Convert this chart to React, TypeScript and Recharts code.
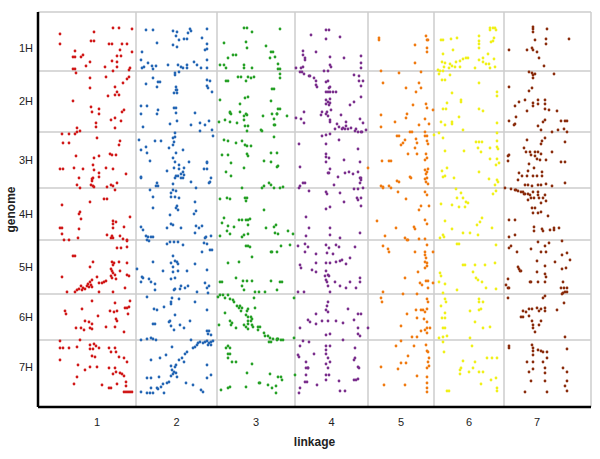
import React from 'react';
import { ScatterChart, Scatter, XAxis, YAxis, ReferenceLine, Label } from 'recharts';

type Pt = [number, number];

// linkage groups along x (cumulative cM), genome chromosomes along y (cumulative position)
const GROUP_LABELS = ['1', '2', '3', '4', '5', '6', '7'];
const GROUP_BREAKS = [0, 78, 159, 237, 310, 376, 446, 512];
const CHROM_LABELS = ['1H', '2H', '3H', '4H', '5H', '6H', '7H'];
const CHROM_BREAKS = [0, 46, 107, 163, 215, 269, 315, 369];
const GROUP_COLORS = ['#d01818', '#2466b4', '#25a025', '#7a2e8c', '#f07a10', '#f0f018', '#8a2c0c'];

const LG1: Pt[] = [
  [55,3],[61,3],[74,4],[36,7],[2,9],[33,16],[36,16],[2,19],[51,19],[54,19],[64,19],[69,19],[62,25],[74,27],[17,26],[25,30],[23,32],[15,32],[17,32],[59,31],[63,31],[54,36],[32,37],[59,37],[28,41],[47,42],[59,42],[72,43],[71,45],[15,44],[17,44],[18,48],[55,46],
  [32,53],[48,52],[71,52],[69,54],[65,58],[57,62],[32,63],[59,67],[50,71],[57,70],[61,70],[15,76],[33,82],[41,84],[34,87],[41,89],[66,85],[64,87],[53,95],[57,93],[63,96],[38,98],[38,102],[57,103],[19,103],[22,106],[19,107],[4,109],[11,109],[17,109],
  [39,113],[62,116],[61,120],[5,118],[11,118],[18,131],[36,133],[41,131],[52,129],[54,130],[58,130],[35,140],[2,144],[5,144],[16,143],[25,144],[36,145],[41,148],[48,143],[55,144],[68,149],[35,153],[34,154],[41,152],[34,156],[21,153],[19,160],[22,163],[33,160],[35,161],[36,162],[49,162],[55,161],[59,158],[57,165],[53,160],
  [32,177],[46,174],[49,174],[4,180],[22,187],[21,189],[23,194],[72,192],[55,196],[55,199],[58,197],[66,202],[2,203],[4,203],[21,204],[4,209],[55,203],[49,210],[54,211],[62,211],[55,213],[65,214],[69,215],[69,216],[6,215],[11,215],[20,213],[53,213],
  [59,223],[63,223],[69,222],[15,231],[17,231],[69,238],[54,237],[56,238],[61,237],[35,237],[32,242],[55,240],[53,244],[54,246],[55,248],[62,246],[57,250],[53,251],[69,250],[71,251],[4,252],[39,252],[34,255],[32,257],[46,257],[48,256],[44,258],[41,258],[54,253],[58,254],[30,259],[33,260],[31,262],[29,261],[34,262],[25,263],[23,261],[27,264],[21,264],[19,265],[17,267],[9,267],[24,265],[41,267],[55,267],[67,263],
  [34,276],[57,278],[72,276],[71,282],[67,283],[69,283],[24,284],[7,286],[8,289],[52,286],[56,287],[59,286],[40,291],[70,289],[58,294],[59,296],[27,296],[31,297],[34,299],[32,303],[34,304],[18,303],[23,303],[26,305],[48,302],[57,302],[66,307],
  [2,316],[22,315],[2,323],[5,323],[11,323],[19,322],[32,320],[36,319],[38,321],[41,323],[32,324],[35,324],[51,323],[57,323],[58,327],[53,327],[34,331],[37,332],[61,332],[66,333],[69,337],[2,335],[20,340],[27,345],[32,342],[39,342],[51,343],[57,343],[58,347],[55,349],[62,348],[64,349],[66,351],[19,352],[68,357],[16,359],[44,360],[59,359],[68,361],[51,363],[53,363],[66,367],[68,367],[70,367],[72,367],[74,367],
];

const LG2: Pt[] = [
  [88,5],[95,5],[115,6],[119,7],[132,4],[133,6],[130,8],[149,4],[99,18],[118,11],[121,15],[126,14],[129,14],[115,20],[119,22],[144,13],[149,19],[149,24],[147,25],[84,27],[83,35],[90,38],[94,41],[98,41],[84,43],[86,42],[95,44],[110,40],[120,40],[123,42],[125,43],[129,40],[136,37],[139,40],[143,43],[149,35],[149,43],[129,43],
  [117,48],[117,50],[121,47],[95,53],[100,57],[102,57],[88,59],[99,62],[118,62],[118,65],[119,65],[149,55],[152,56],[149,61],[150,63],[154,67],[116,68],[119,68],[83,81],[89,81],[100,85],[116,83],[118,83],[83,89],[99,89],[118,88],[137,88],[119,96],[112,99],[85,102],[133,100],[142,98],[151,96],[154,105],[142,106],[147,100],
  [117,108],[115,113],[117,112],[155,111],[81,115],[97,116],[103,116],[116,117],[115,120],[111,123],[88,122],[83,125],[89,128],[92,136],[125,125],[118,128],[115,133],[117,137],[131,137],[121,140],[109,146],[116,143],[121,144],[126,143],[125,147],[123,149],[149,137],[149,138],[146,144],[149,144],[118,151],[120,151],[117,153],[123,153],[126,150],[125,153],[83,152],[83,153],[99,158],[98,161],[100,161],[115,159],[133,157],[153,153],[152,157],[151,158],
  [92,165],[115,165],[118,166],[113,168],[117,172],[121,173],[95,172],[113,172],[138,163],[137,177],[119,181],[118,183],[120,185],[95,183],[112,190],[138,186],[136,189],[83,202],[85,205],[88,211],[90,212],[93,212],[95,212],[113,199],[115,200],[109,203],[123,203],[138,201],[141,203],[144,201],[137,208],[148,212],[147,213],[153,211],[89,215],[91,216],
  [109,219],[112,217],[116,217],[120,217],[125,220],[146,218],[149,219],[152,225],[154,225],[144,227],[79,244],[95,237],[115,231],[117,236],[119,237],[113,238],[120,239],[115,242],[105,246],[115,247],[120,246],[129,246],[137,239],[149,245],[84,252],[85,253],[91,254],[93,257],[97,259],[113,254],[117,253],[83,257],[123,261],[130,261],[127,263],[122,264],[117,264],[116,265],[97,265],[139,267],[147,258],[151,261],[149,263],[150,268],
  [89,272],[114,273],[113,277],[121,274],[96,284],[99,285],[106,282],[113,279],[137,277],[149,285],[117,290],[112,296],[111,297],[113,301],[116,305],[122,300],[126,303],[132,296],[95,299],[97,299],[149,306],[151,306],[150,309],[153,310],[83,315],[89,314],[93,313],[95,314],[98,315],
  [133,315],[135,323],[137,322],[139,320],[140,318],[142,317],[145,318],[147,317],[149,316],[151,318],[153,317],[155,316],[153,320],[150,320],[114,322],[129,327],[127,329],[124,333],[121,335],[126,337],[118,340],[113,341],[117,342],[114,345],[116,347],[118,348],[115,349],[113,351],[119,352],[102,333],[108,330],[93,335],[149,340],[153,350],[149,353],[89,353],[93,353],[101,352],[111,357],[109,358],[105,359],[103,362],[99,363],[93,363],[128,358],[135,360],[143,365],[145,367],[83,367],[89,368],[92,368],[95,368],[106,368],[100,364],
];

const LG3: Pt[] = [
  [186,3],[189,3],[194,7],[222,4],[166,18],[188,17],[189,23],[208,21],[213,27],[215,27],[217,32],[212,33],[175,30],[178,30],[170,33],[162,40],[166,40],[168,43],[186,40],[186,43],[194,43],[220,39],[220,44],[222,44],
  [222,49],[222,53],[180,52],[183,52],[190,52],[193,53],[196,52],[188,56],[168,56],[170,56],[214,64],[216,64],[190,72],[187,73],[182,79],[162,75],[213,76],[172,87],[172,88],[173,89],[182,87],[188,89],[189,90],[186,91],[220,84],[222,84],[219,89],[214,89],[219,89],[205,91],[229,91],[161,97],[167,95],[172,97],[179,98],[186,95],[187,101],[190,101],[189,106],[203,105],[204,106],[216,94],[216,100],[217,100],
  [166,115],[170,116],[178,118],[184,116],[216,112],[187,120],[189,121],[193,121],[189,129],[190,131],[164,130],[170,130],[173,138],[206,136],[213,128],[219,128],[213,137],[219,142],[220,141],[186,143],[168,147],[173,151],[211,158],[213,160],[206,161],[216,163],[222,163],[225,162],[184,163],[204,163],
  [162,174],[169,173],[172,174],[187,173],[189,173],[188,176],[206,185],[166,193],[164,198],[170,201],[181,195],[184,195],[188,195],[190,195],[192,194],[176,202],[190,200],[190,209],[186,210],[184,212],[169,206],[172,209],[162,211],[208,203],[216,202],[218,200],[217,208],[220,209],[230,206],[235,209],
  [188,221],[190,221],[192,222],[194,232],[223,221],[232,220],[213,227],[214,227],[219,227],[170,238],[181,237],[162,257],[164,257],[178,253],[185,256],[189,256],[194,256],[184,261],[197,267],[201,267],[207,267],[213,256],[222,257],[224,257],[186,265],[219,265],
  [160,272],[162,270],[165,270],[170,270],[167,273],[172,274],[175,275],[176,277],[179,281],[181,283],[182,281],[184,283],[183,286],[189,286],[190,284],[188,290],[190,292],[193,292],[194,294],[190,296],[193,296],[190,299],[194,300],[188,302],[190,304],[186,300],[195,302],[200,302],[202,302],[200,305],[206,308],[207,311],[210,311],[212,313],[215,314],[219,315],[220,314],[223,315],[225,315],[219,314],[213,317],[211,317],[167,288],[172,296],[174,298],[173,300],[178,303],[161,300],[196,273],[197,283],[236,313],[236,273],
  [170,321],[168,323],[172,323],[170,329],[172,329],[174,337],[178,337],[170,333],[194,339],[189,348],[212,349],[220,352],[223,352],[224,355],[201,358],[202,358],[210,360],[218,361],[214,363],[172,362],[170,363],[188,362],[218,368],[163,365],[237,350],
];

const LG4: Pt[] = [
  [268,5],[271,5],[253,10],[268,14],[282,12],[245,26],[258,27],[245,30],[247,33],[247,35],[272,32],[286,33],[303,31],[303,38],[303,43],[272,40],[273,42],[245,42],[243,43],[238,43],[242,47],[244,47],[246,49],[266,46],[270,46],
  [251,51],[252,51],[256,53],[258,56],[258,60],[259,62],[268,57],[270,56],[296,50],[301,51],[301,56],[305,56],[303,61],[272,62],[271,63],[268,67],[270,67],[272,67],[275,67],[278,67],[268,75],[272,74],[270,77],[268,79],[271,80],[272,78],[296,77],[292,80],[303,72],[273,85],[269,87],[268,89],[270,91],[264,87],[263,90],[246,87],[238,93],[243,94],[246,98],[272,95],[272,97],[283,90],[279,99],[281,102],[285,103],[288,101],[288,97],[287,104],[290,104],[284,104],[277,104],[293,103],[297,106],[298,104],[300,107],[304,107],[308,105],[305,98],[302,94],[303,107],
  [268,110],[272,109],[264,111],[281,115],[241,119],[268,119],[300,124],[268,129],[268,132],[271,133],[286,135],[302,137],[268,137],[242,142],[272,144],[270,148],[271,148],[280,152],[287,148],[291,147],[295,149],[300,147],[302,153],[303,153],[303,155],[302,158],[245,158],[247,158],[242,161],[241,163],[276,160],[296,164],
  [251,166],[268,167],[269,169],[282,168],[300,164],[305,163],[299,173],[300,175],[303,173],[286,177],[272,182],[268,184],[303,181],[248,192],[251,203],[248,211],[272,203],[272,210],[282,213],[302,208],
  [240,221],[247,219],[250,222],[247,227],[268,220],[271,223],[269,228],[278,220],[281,222],[297,222],[258,229],[275,229],[292,233],[242,240],[243,243],[258,238],[268,238],[272,238],[278,237],[282,236],[284,235],[288,239],[254,245],[258,247],[268,246],[270,250],[267,251],[271,251],[268,255],[269,257],[270,261],[277,257],[292,257],[302,253],[302,257],[298,263],[288,263],[282,261],[240,267],[246,267],[272,267],
  [270,277],[269,281],[268,285],[270,287],[290,284],[300,289],[303,289],[258,289],[250,295],[252,297],[258,299],[264,296],[270,296],[278,296],[285,298],[296,295],[242,303],[300,303],[272,309],[268,310],[300,309],[302,311],[285,315],[310,303],
  [245,316],[251,317],[242,321],[240,330],[241,332],[248,337],[250,343],[248,343],[250,343],[248,350],[247,357],[249,357],[256,329],[268,321],[272,321],[268,325],[268,329],[270,333],[272,337],[268,339],[270,343],[268,350],[271,350],[268,355],[259,360],[242,363],[241,368],[297,323],[297,333],[296,335],[300,342],[301,343],[298,355],[300,354],[296,355],[281,356],[282,366],[287,366],
];

const LG5: Pt[] = [
  [321,13],[321,15],[368,11],[369,15],[370,15],[357,20],[369,23],[369,27],[357,38],[363,47],[323,46],[341,48],
  [325,58],[348,63],[361,58],[363,63],[358,67],[355,80],[368,79],[369,83],[375,85],[323,90],[349,89],[348,93],[337,97],[367,94],[371,99],[361,100],[323,102],
  [352,107],[354,107],[339,111],[341,111],[367,107],[367,111],[369,111],[347,115],[345,118],[343,120],[358,114],[359,118],[369,116],[370,119],[350,129],[359,129],[368,129],[369,133],[367,135],[324,136],[331,136],[333,136],[310,143],[367,145],[369,147],[370,144],[368,149],[369,153],[367,154],[352,152],[353,153],[339,156],[341,157],[323,161],[325,162],[325,163],[331,161],[333,163],[368,157],[370,159],[357,123],
  [340,167],[348,174],[367,167],[369,170],[363,181],[371,181],[361,185],[319,196],[367,195],[369,199],[338,203],[356,202],[357,204],[327,211],[347,213],[349,215],[350,215],[361,214],[367,214],
  [369,220],[325,221],[330,224],[331,227],[357,227],[375,227],[367,227],[367,230],[368,233],[369,238],[367,237],[369,241],[367,243],[360,247],[347,253],[368,256],[370,256],[362,258],[364,260],[375,258],[370,263],
  [325,267],[323,273],[324,277],[345,269],[359,269],[369,274],[370,277],[358,285],[363,285],[365,285],[367,287],[369,284],[349,289],[359,293],[366,294],[369,297],[343,301],[369,303],[367,305],[372,303],[369,308],[363,306],[359,312],[354,312],
  [343,316],[338,321],[356,321],[368,320],[369,326],[370,327],[350,331],[371,333],[370,337],[371,341],[369,343],[343,338],[348,338],[340,344],[323,342],[359,351],[369,352],[326,360],[347,360],[369,358],[369,363],[369,367],
];

const LG6: Pt[] = [
  [432,3],[435,3],[437,3],[438,5],[432,5],[421,11],[436,13],[383,15],[385,15],[393,14],[399,13],[421,16],[421,19],[421,23],[433,17],[435,16],[395,25],[385,29],[408,33],[410,33],[405,34],[402,36],[398,37],[425,33],[430,29],[421,35],[425,37],[431,39],[436,34],[384,37],[387,38],[386,42],[392,39],[394,41],[397,42],[391,43],[402,42],[417,43],[428,39],[437,42],[432,43],[380,45],[382,46],[385,46],[381,49],[392,50],
  [384,55],[387,55],[421,58],[394,68],[439,67],[439,71],[403,75],[403,77],[389,78],[385,84],[388,84],[421,84],[425,86],[401,92],[383,97],[394,97],[394,99],[387,100],[405,105],[439,98],
  [376,110],[381,108],[385,113],[439,108],[439,116],[418,117],[421,117],[424,117],[420,123],[423,127],[439,122],[440,124],[432,123],[387,126],[406,126],[432,134],[439,134],[441,138],[438,140],[421,147],[384,146],[389,143],[385,152],[387,151],[396,153],[431,154],[439,155],[437,160],[440,157],
  [398,164],[403,168],[399,173],[405,173],[408,177],[401,182],[407,182],[410,178],[438,166],[435,169],[383,179],[394,180],[387,196],[424,193],[422,197],[419,200],[434,203],[394,204],[405,208],[412,208],[385,210],[386,212],[382,213],[420,210],[401,219],[399,219],[438,220],
  [405,240],[407,240],[417,240],[427,240],[437,238],[382,248],[383,251],[415,247],[418,253],[420,255],[424,257],[381,257],[387,259],[399,265],[428,263],[438,264],
  [385,268],[387,274],[388,277],[383,281],[421,274],[421,277],[425,277],[412,286],[421,285],[423,284],[387,288],[384,293],[387,293],[417,297],[425,303],[432,302],[385,303],[387,303],[381,313],[385,312],[389,311],[412,313],
  [385,317],[386,327],[414,321],[429,333],[434,333],[439,333],[405,336],[417,337],[403,343],[415,343],[421,347],[425,347],[402,345],[402,349],[411,347],[433,355],[438,353],[439,363],[439,366],[423,359],[389,366],[391,366],
];

const LG7: Pt[] = [
  [475,2],[475,4],[475,7],[489,4],[511,14],[477,15],[488,14],[488,19],[451,25],[469,25],[474,23],[475,25],[479,27],[481,33],[486,41],
  [471,47],[474,48],[475,50],[477,49],[475,53],[496,49],[451,62],[474,63],[471,66],[461,77],[467,75],[457,81],[475,78],[475,81],[480,79],[480,75],[487,75],[487,79],[469,86],[487,84],[491,85],[499,86],[458,92],[451,96],[457,99],[456,100],[480,101],[485,97],[487,95],[483,105],[494,107],[500,105],[503,96],[507,96],[509,96],[506,104],[509,107],
  [487,113],[484,116],[483,119],[507,117],[469,115],[466,123],[468,127],[472,127],[477,127],[480,127],[483,129],[477,131],[479,134],[482,135],[488,135],[473,130],[450,131],[451,130],[450,136],[494,127],[503,137],[507,137],[471,139],[476,143],[484,147],[470,146],[461,148],[464,151],[469,151],[475,151],[479,151],[484,151],[460,155],[467,160],[470,160],[474,161],[480,160],[483,160],[488,159],[494,161],[507,158],
  [447,163],[453,164],[457,165],[458,165],[460,166],[463,167],[465,167],[466,169],[467,169],[470,169],[472,170],[475,167],[480,167],[480,170],[473,173],[476,173],[481,173],[485,173],[487,170],[488,176],[470,175],[483,178],[474,183],[477,183],[475,188],[480,188],[483,187],[490,191],[451,195],[457,195],[476,202],[476,206],[484,204],[485,206],[492,205],[496,203],[496,205],[501,203],[451,212],[457,210],
  [504,216],[480,217],[491,218],[487,221],[453,221],[451,223],[473,224],[483,227],[488,227],[509,228],[512,235],[504,230],[459,227],[479,236],[497,237],[487,241],[460,242],[461,244],[462,246],[463,246],[479,247],[504,244],[508,243],[487,249],[488,252],[450,254],[448,260],[450,263],[451,263],[472,257],[473,257],[480,257],[487,257],[505,257],[503,263],[506,263],[509,263],[507,267],[505,268],[509,267],[504,269],
  [450,273],[487,271],[485,273],[506,278],[499,285],[471,284],[474,284],[479,283],[481,286],[483,284],[487,283],[487,286],[465,286],[468,287],[463,292],[465,292],[471,291],[474,296],[475,300],[475,303],[483,296],[481,300],[477,307],[507,312],
  [451,321],[451,323],[474,320],[475,323],[475,326],[480,325],[483,326],[485,327],[489,327],[509,324],[489,333],[475,330],[469,337],[475,337],[485,337],[487,343],[475,344],[471,347],[487,348],[505,343],[509,347],[473,356],[487,356],[509,356],[507,361],[509,366],[467,367],[489,367],
];

const GROUPS: Pt[][] = [LG1, LG2, LG3, LG4, LG5, LG6, LG7];

const X_DOMAIN: [number, number] = [-20, 533];
const Y_DOMAIN: [number, number] = [-13, 382];

const mids = (b: number[]) => b.slice(0, -1).map((v, i) => (v + b[i + 1]) / 2);
const X_TICKS = mids(GROUP_BREAKS);
const Y_TICKS = mids(CHROM_BREAKS);

const FONT = '"Liberation Sans", Arial, sans-serif';
const GRID = '#cccccc';

const dot = (color: string) => (props: any) => (
  <circle cx={props.cx} cy={props.cy} r={1.4} fill={color} />
);

export default function App() {
  return (
    <div style={{ position: 'absolute', left: 0, top: 0, background: '#fff' }}>
      <ScatterChart width={600} height={459} margin={{ top: 12, right: 9, bottom: 0, left: 0 }}>
        <XAxis
          type="number"
          dataKey="x"
          domain={X_DOMAIN}
          ticks={X_TICKS}
          tickFormatter={(v: number) => GROUP_LABELS[X_TICKS.indexOf(v)]}
          height={52}
          tickLine={false}
          tickSize={0}
          tickMargin={11}
          axisLine={{ stroke: '#000', strokeWidth: 2.5 }}
          tick={{ fontSize: 11, fill: '#222', fontFamily: FONT }}
          allowDataOverflow
        >
          <Label value="linkage" position="insideBottom" offset={13}
            style={{ fontSize: 12, fontWeight: 'bold', fill: '#222', fontFamily: FONT }} />
        </XAxis>
        <YAxis
          type="number"
          dataKey="y"
          domain={Y_DOMAIN}
          reversed
          ticks={Y_TICKS}
          tickFormatter={(v: number) => CHROM_LABELS[Y_TICKS.indexOf(v)]}
          width={38}
          tickLine={false}
          tickSize={0}
          tickMargin={5}
          axisLine={{ stroke: '#000', strokeWidth: 2.5 }}
          tick={{ fontSize: 11, fill: '#222', fontFamily: FONT }}
          allowDataOverflow
        >
          <Label value="genome" angle={-90} position="insideLeft" offset={11}
            style={{ fontSize: 12, fontWeight: 'bold', fill: '#222', fontFamily: FONT, textAnchor: 'middle' }} />
        </YAxis>
        {GROUP_BREAKS.slice(1, -1).map((b) => (
          <ReferenceLine key={'gx' + b} x={b} stroke={GRID} strokeWidth={1.5} />
        ))}
        {CHROM_BREAKS.slice(1, -1).map((b) => (
          <ReferenceLine key={'cy' + b} y={b} stroke={GRID} strokeWidth={1.5} />
        ))}
        <ReferenceLine x={X_DOMAIN[1]} stroke={GRID} strokeWidth={1.5} />
        <ReferenceLine y={Y_DOMAIN[0]} stroke={GRID} strokeWidth={1.5} />
        {GROUPS.map((pts, i) => (
          <Scatter
            key={GROUP_LABELS[i]}
            name={GROUP_LABELS[i]}
            data={pts.map(([x, y]) => ({ x, y }))}
            fill={GROUP_COLORS[i]}
            shape={dot(GROUP_COLORS[i])}
            isAnimationActive={false}
          />
        ))}
      </ScatterChart>
    </div>
  );
}
